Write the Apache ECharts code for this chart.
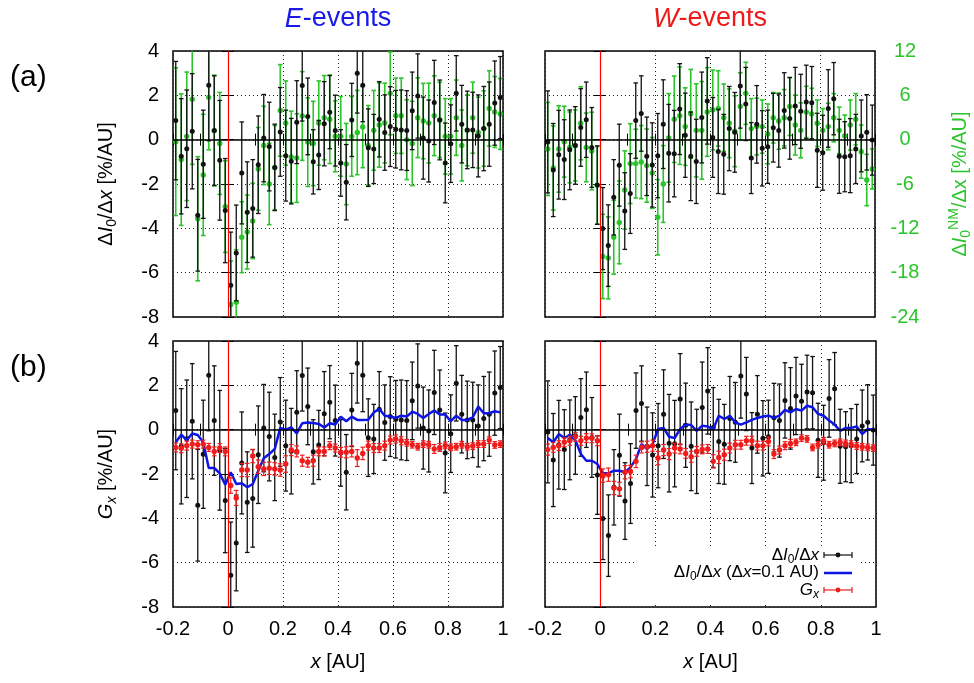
<!DOCTYPE html>
<html>
<head>
<meta charset="utf-8">
<script src="https://cdn.jsdelivr.net/npm/echarts@6/dist/echarts.min.js"></script>
<style>
  html, body { margin: 0; padding: 0; background: #fff; }
  #chart { width: 974px; height: 683px; }
</style>
</head>
<body>
<div id="chart"></div>
<script>
// Bin centres (AU)
const xs = [-0.19,-0.17,-0.15,-0.13,-0.11,-0.09,-0.07,-0.05,-0.03,-0.01,
             0.01, 0.03, 0.05, 0.07, 0.09, 0.11, 0.13, 0.15, 0.17, 0.19,
             0.21, 0.23, 0.25, 0.27, 0.29, 0.31, 0.33, 0.35, 0.37, 0.39,
             0.41, 0.43, 0.45, 0.47, 0.49, 0.51, 0.53, 0.55, 0.57, 0.59,
             0.61, 0.63, 0.65, 0.67, 0.69, 0.71, 0.73, 0.75, 0.77, 0.79,
             0.81, 0.83, 0.85, 0.87, 0.89, 0.91, 0.93, 0.95, 0.97, 0.99];

// E-events: dI0/dx [%/AU] and its error
const eDI = [0.86,-0.75,-0.41,0.38,-3.41,-1.11,2.45,0.41,-0.93,-3.2,
             -6.57,-5.11,-1.5,-3.27,-3.1,-1.13,0.07,-0.31,-1.25,0.35,
             -0.72,-0.97,0.79,2.44,1.05,-1.0,-0.69,0.72,1.24,0.41,
             -1.05,-1.92,0.89,3.0,2.45,-0.36,-0.42,0.92,0.32,0.59,
             0.47,0.44,0.41,1.3,1.97,0.07,-0.06,1.68,0.89,-1.05,
             -0.18,2.09,0.7,0.44,0.44,0.17,0.5,0.7,1.65,1.9];
const eDIErr = [2.67,2.6,2.65,2.6,2.52,2.44,2.5,2.47,2.7,2.35,
                2.4,2.16,2.3,2.27,2.2,2.2,1.97,2.0,1.95,2.0,
                2.05,1.93,1.87,1.6,1.73,1.45,1.56,1.9,1.65,1.6,
                1.5,1.7,1.65,1.8,1.64,1.75,1.56,1.7,1.7,1.8,
                1.75,1.8,1.8,1.75,1.9,1.85,1.85,1.9,1.8,1.8,
                1.75,1.7,1.75,1.75,1.7,1.85,1.9,1.9,1.9,1.85];

// E-events: neutron monitor dI0NM/dx [%/AU] and its error
const eNM = [-0.27,-2.7,0.45,5.46,-10.7,-4.77,5.73,1.23,-0.51,-9.06,
             -22.3,-22.0,-13.2,-12.5,-11.0,-3.96,-0.78,-6.0,-3.78,3.96,
             2.25,-2.34,-2.49,3.21,-0.33,-0.51,2.25,2.97,2.76,0.45,
             0.45,-3.3,0.45,0.96,1.71,-0.78,1.26,1.98,2.25,6.27,
             3.24,3.24,0.0,-0.51,2.97,2.52,2.25,3.24,2.67,0.45,
             0.45,2.97,-0.78,1.26,2.97,0.96,1.5,4.23,3.75,3.48];
const eNMErr = [10.0,8.9,8.7,8.8,8.4,8.2,7.1,7.5,6.9,6.2,
                5.9,7.1,4.8,5.0,5.1,5.6,5.3,5.5,5.7,6.2,
                5.7,6.2,6.0,6.0,6.0,5.7,5.7,5.7,6.0,4.8,
                5.4,5.5,5.4,5.7,5.5,5.4,5.4,5.7,5.4,5.6,
                5.1,5.1,5.4,5.7,5.4,5.1,5.4,5.4,5.1,5.1,
                5.1,5.1,4.8,4.8,4.8,4.8,5.1,5.1,4.8,4.8];

// W-events: dI0/dx [%/AU] and its error
const wDI = [-0.1,-1.37,-0.68,-0.9,-0.46,-0.26,0.55,0.9,-0.35,-2.05,
             -4.01,-4.78,-2.6,-1.15,-3.22,-2.43,0.86,1.18,-0.75,-1.14,
             -0.72,0.7,-0.61,-0.63,1.38,0.2,-0.75,-0.98,1.0,1.75,
             0.1,-0.53,-0.66,0.5,0.33,2.42,1.61,-0.83,0.69,-0.39,
             -0.32,0.54,0.41,1.32,0.96,1.52,1.28,1.7,1.67,-0.48,
             -0.59,1.41,1.85,-0.75,-0.77,-0.72,-0.42,0.17,0.33,-0.02];
const wDIErr = [2.3,2.1,2.0,1.8,1.8,1.75,1.75,1.7,1.8,1.77,
                1.85,1.84,1.7,1.85,1.73,1.8,1.7,1.7,1.77,1.9,
                1.9,2.0,2.2,1.95,2.05,1.9,2.0,1.9,2.05,1.95,
                1.8,1.9,1.8,1.9,1.8,1.9,1.65,1.6,1.75,1.7,
                1.65,1.55,1.65,1.7,1.84,1.74,1.67,1.66,1.63,1.67,
                1.69,1.75,1.63,1.67,1.58,1.67,1.56,1.62,1.7,1.58];

// W-events: neutron monitor dI0NM/dx [%/AU] and its error
const wNM = [-1.26,-3.84,-1.26,-0.27,-1.05,-0.78,2.22,-1.05,-1.53,-6.18,
             -15.8,-16.0,-13.2,-11.2,-6.81,-3.24,-3.24,-3.03,-3.51,-4.5,
             -10.5,-6.0,0.24,2.76,3.24,1.77,3.51,1.26,1.26,3.75,
             4.02,4.23,2.97,2.22,1.14,4.5,6.27,1.5,1.77,1.77,
             0.78,2.97,2.52,2.97,4.5,1.98,1.26,3.75,3.48,2.22,
             1.26,1.77,2.97,1.26,0.51,1.98,2.76,-1.62,-5.46,-3.96];
const wNMErr = [6.3,5.7,5.85,4.8,4.8,4.8,4.95,4.65,5.25,5.25,
                5.7,5.55,5.0,5.6,5.3,5.4,4.65,4.95,4.95,4.8,
                5.1,5.2,6.0,5.85,6.6,5.25,6.0,6.3,6.6,6.0,
                5.4,5.1,4.56,4.65,4.8,4.56,4.2,4.05,3.84,3.6,
                4.05,3.42,3.81,3.81,3.93,4.05,3.72,3.48,3.48,3.15,
                2.94,3.15,3.27,3.15,2.82,3.39,3.48,3.6,3.48,2.7];

// dI0/dx smoothed with dx = 0.1 AU
const eSmooth = [-0.57,-0.23,-0.47,-0.17,-0.24,-0.57,-1.73,-1.73,-1.97,-2.48,
                 -1.92,-2.45,-2.42,-2.6,-2.45,-1.85,-1.29,-1.1,-0.87,0.08,
                 0.0,0.1,-0.17,0.29,0.32,0.3,0.26,0.1,0.29,0.23,
                 0.59,0.38,0.59,0.44,0.44,0.45,0.78,0.93,0.63,0.59,
                 0.53,0.63,0.59,0.81,0.71,0.53,0.71,0.86,0.68,0.68,
                 0.38,0.63,0.44,0.44,0.56,1.04,0.74,0.74,0.83,0.78];
const wSmooth = [-0.38,-0.57,-0.2,-0.38,-0.23,-0.47,-1.1,-1.4,-1.4,-1.55,
                 -1.97,-1.97,-1.85,-1.85,-1.92,-1.7,-1.32,-0.65,-0.87,-0.65,
                 0.03,0.08,-0.32,-0.38,0.03,0.23,0.21,-0.05,0.18,0.14,
                 0.03,0.63,0.48,0.63,0.33,0.23,0.33,0.44,0.53,0.59,
                 0.63,0.53,0.63,0.89,0.78,0.93,0.86,1.08,1.01,0.71,
                 0.63,0.41,0.23,-0.05,0.08,0.08,0.14,-0.2,0.03,0.0];

// Gx [%/AU] and its error
const eGx = [-0.8,-0.84,-0.72,-0.65,-0.68,-0.65,-0.8,-0.98,-0.83,-0.98,
             -2.52,-3.08,-1.82,-1.82,-1.19,-1.67,-1.77,-1.74,-1.77,-1.82,
             -1.55,-0.92,-0.98,-1.4,-1.47,-1.4,-0.98,-0.98,-0.72,-0.83,
             -1.02,-1.02,-0.98,-1.28,-1.07,-0.72,-0.83,-0.83,-0.72,-0.47,
             -0.42,-0.5,-0.59,-0.68,-0.77,-0.65,-0.68,-0.87,-0.8,-0.71,
             -0.8,-0.77,-0.68,-0.77,-0.74,-0.65,-0.65,-0.47,-0.69,-0.65];
const eGxErr = [0.2,0.2,0.2,0.18,0.18,0.18,0.18,0.2,0.2,0.2,
                0.35,0.34,0.3,0.3,0.3,0.3,0.3,0.28,0.28,0.28,
                0.37,0.25,0.25,0.25,0.22,0.25,0.2,0.2,0.18,0.18,
                0.22,0.25,0.25,0.38,0.28,0.2,0.2,0.2,0.2,0.18,
                0.18,0.18,0.15,0.15,0.15,0.15,0.15,0.2,0.18,0.15,
                0.15,0.15,0.15,0.15,0.15,0.15,0.15,0.15,0.15,0.15];
const wGx = [-0.9,-0.8,-0.72,-0.57,-0.5,-0.32,-0.5,-0.38,-0.39,-0.5,
             -2.07,-2.03,-2.63,-2.67,-1.92,-1.89,-1.43,-0.8,-0.77,-0.72,
             -1.28,-0.92,-1.1,-0.83,-0.87,-1.07,-1.22,-0.98,-0.89,-0.87,
             -1.43,-1.25,-1.13,-0.83,-0.68,-0.68,-0.5,-0.5,-0.72,-0.72,
             -0.53,-1.1,-0.92,-0.72,-0.62,-0.57,-0.38,-0.42,-0.8,-0.68,
             -0.5,-0.68,-0.62,-0.57,-0.62,-0.65,-0.74,-0.77,-0.8,-0.83];
const wGxErr = [0.25,0.22,0.22,0.2,0.2,0.2,0.2,0.2,0.2,0.22,
                0.3,0.3,0.3,0.3,0.3,0.28,0.28,0.25,0.25,0.25,
                0.3,0.25,0.25,0.22,0.22,0.22,0.25,0.22,0.2,0.2,
                0.3,0.28,0.25,0.22,0.2,0.2,0.2,0.2,0.2,0.2,
                0.2,0.2,0.18,0.18,0.18,0.15,0.15,0.15,0.15,0.15,
                0.15,0.15,0.15,0.15,0.15,0.15,0.15,0.15,0.15,0.15];

// Axis tick values
const xTicks = [-0.2, 0, 0.2, 0.4, 0.6, 0.8, 1];
const yTicks = [-8, -6, -4, -2, 0, 2, 4];
const nmTicks = [-24, -18, -12, -6, 0, 6, 12];

// ---------------------------------------------------------------
const FONT = '"Liberation Sans", Arial, Helvetica, sans-serif';
const BLACK = '#111';
const GREEN = '#2bc42b';
const BLUE = '#0c14e6';
const RED = '#f01c1c';

const panels = [
  { left: 173, top: 51,  width: 330, height: 266 },
  { left: 545, top: 51,  width: 331, height: 266 },
  { left: 173, top: 341, width: 330, height: 266 },
  { left: 545, top: 341, width: 331, height: 266 }
];

function triples(vals, errs) {
  return xs.map((x, i) => [x, vals[i], errs[i]]);
}

function errorBarRenderer(color, r, cap, lw) {
  return function (params, api) {
    const x = api.value(0), y = api.value(1), e = api.value(2);
    const p = api.coord([x, y]);
    const hi = api.coord([x, y + e]);
    const lo = api.coord([x, y - e]);
    const st = { stroke: color, lineWidth: lw };
    return {
      type: 'group',
      children: [
        { type: 'line', shape: { x1: p[0], y1: hi[1], x2: p[0], y2: lo[1] }, style: st },
        { type: 'line', shape: { x1: p[0] - cap, y1: hi[1], x2: p[0] + cap, y2: hi[1] }, style: st },
        { type: 'line', shape: { x1: p[0] - cap, y1: lo[1], x2: p[0] + cap, y2: lo[1] }, style: st },
        { type: 'circle', shape: { cx: p[0], cy: p[1], r: r }, style: { fill: color } }
      ]
    };
  };
}

const dotted = { color: '#222', width: 1, type: [1, 3] };
const tickStyle = { color: '#000', width: 1 };

function xFmt(v) {
  if (Math.abs(v) < 1e-9) return '0';
  return String(+v.toFixed(1));
}

const xAxes = [];
const yAxes = [];
for (let g = 0; g < 4; g++) {
  const bottomRow = g >= 2;
  xAxes.push({
    type: 'value', gridIndex: g, position: 'bottom',
    min: xTicks[0], max: xTicks[xTicks.length - 1], interval: 0.2,
    axisLine: { show: false },
    axisTick: { show: true, inside: true, length: 6, lineStyle: tickStyle },
    minorTick: { show: true, splitNumber: 2, length: 6, lineStyle: tickStyle },
    axisLabel: { show: bottomRow, formatter: xFmt, fontSize: 20, color: '#000', fontFamily: FONT, margin: 12 },
    splitLine: { show: true, lineStyle: dotted },
    name: bottomRow ? '{i|x}{d| [AU]}' : '',
    nameLocation: 'middle', nameGap: 45,
    nameTextStyle: {
      fontFamily: FONT, color: '#000', fontSize: 20,
      rich: { i: { fontSize: 20, fontStyle: 'italic', fontFamily: FONT, color: '#000' },
              d: { fontSize: 20, fontFamily: FONT, color: '#000' } }
    }
  });
}
for (let g = 0; g < 4; g++) {
  xAxes.push({
    type: 'value', gridIndex: g, position: 'top',
    min: xTicks[0], max: xTicks[xTicks.length - 1], interval: 0.2,
    axisLine: { show: false },
    axisTick: { show: true, inside: true, length: 6, lineStyle: tickStyle },
    minorTick: { show: true, splitNumber: 2, length: 6, lineStyle: tickStyle },
    axisLabel: { show: false }, splitLine: { show: false }
  });
}

const blackRich = {
  d: { fontSize: 20, fontFamily: FONT, color: '#000' },
  i: { fontSize: 20, fontFamily: FONT, fontStyle: 'italic', color: '#000' },
  s: { fontSize: 14, fontFamily: FONT, color: '#000', padding: [12, 0, 0, 0] },
  si: { fontSize: 14, fontFamily: FONT, fontStyle: 'italic', color: '#000', padding: [12, 0, 0, 0] }
};
const yNames = [
  '{d|Δ}{i|I}{s|0}{d|/Δ}{i|x}{d| [%/AU]}',
  '',
  '{i|G}{si|x}{d| [%/AU]}',
  ''
];
for (let g = 0; g < 4; g++) {
  const leftCol = g % 2 === 0;
  yAxes.push({
    type: 'value', gridIndex: g, position: 'left',
    min: yTicks[0], max: yTicks[yTicks.length - 1], interval: 2,
    axisLine: { show: false },
    axisTick: { show: true, inside: true, length: 6, lineStyle: tickStyle },
    axisLabel: { show: leftCol, fontSize: 20, color: '#000', fontFamily: FONT, margin: 14 },
    splitLine: { show: true, lineStyle: dotted },
    name: yNames[g], nameLocation: 'middle', nameRotate: 90, nameGap: 54,
    nameTextStyle: { fontFamily: FONT, fontSize: 20, color: '#000', rich: blackRich }
  });
}
const greenRich = {
  d: { fontSize: 20, fontFamily: FONT, color: GREEN },
  i: { fontSize: 20, fontFamily: FONT, fontStyle: 'italic', color: GREEN },
  s: { fontSize: 14, fontFamily: FONT, color: GREEN, padding: [12, 0, 0, 0] },
  u: { fontSize: 14, fontFamily: FONT, color: GREEN, padding: [0, 0, 12, 0] }
};
for (let g = 0; g < 4; g++) {
  const top = g < 2;
  const greenAxis = g === 1;
  yAxes.push({
    type: 'value', gridIndex: g, position: 'right',
    min: top ? nmTicks[0] : yTicks[0],
    max: top ? nmTicks[nmTicks.length - 1] : yTicks[yTicks.length - 1],
    interval: top ? 6 : 2,
    axisLine: { show: false },
    axisTick: { show: true, inside: true, length: 6, lineStyle: tickStyle },
    axisLabel: { show: greenAxis, fontSize: 20, color: GREEN, fontFamily: FONT, margin: 30, align: 'center' },
    splitLine: { show: false },
    name: greenAxis ? '{d|Δ}{i|I}{s|0}{u|NM}{d|/Δx [%/AU]}' : '',
    nameLocation: 'middle', nameRotate: 90, nameGap: 72,
    nameTextStyle: { fontFamily: FONT, fontSize: 20, color: GREEN, rich: greenRich }
  });
}

const refLines = {
  silent: true, symbol: 'none', animation: false, label: { show: false },
  data: [
    { yAxis: 0, lineStyle: { color: '#000', width: 1.5, type: 'solid' } },
    { xAxis: 0, lineStyle: { color: '#f00', width: 1.2, type: 'solid' } }
  ]
};

function errSeries(g, yIdx, vals, errs, color, r, lw, z, withRef) {
  const s = {
    type: 'custom', xAxisIndex: g, yAxisIndex: yIdx, clip: true, z: z,
    renderItem: errorBarRenderer(color, r, 2.3, lw),
    encode: { x: 0, y: 1 },
    data: triples(vals, errs)
  };
  if (withRef) s.markLine = refLines;
  return s;
}

const series = [
  errSeries(0, 4, eNM, eNMErr, GREEN, 2.7, 1.6, 2, false),
  errSeries(0, 0, eDI, eDIErr, BLACK, 2.5, 1.3, 3, true),
  errSeries(1, 5, wNM, wNMErr, GREEN, 2.7, 1.6, 2, false),
  errSeries(1, 1, wDI, wDIErr, BLACK, 2.5, 1.3, 3, true),
  errSeries(2, 2, eDI, eDIErr, BLACK, 2.5, 1.3, 2, true),
  { type: 'line', xAxisIndex: 2, yAxisIndex: 2, z: 3, showSymbol: false, clip: true,
    lineStyle: { color: BLUE, width: 2.5 }, data: xs.map((x, i) => [x, eSmooth[i]]) },
  errSeries(2, 2, eGx, eGxErr, RED, 2.7, 1.2, 4, false),
  errSeries(3, 3, wDI, wDIErr, BLACK, 2.5, 1.3, 2, true),
  { type: 'line', xAxisIndex: 3, yAxisIndex: 3, z: 3, showSymbol: false, clip: true,
    lineStyle: { color: BLUE, width: 2.5 }, data: xs.map((x, i) => [x, wSmooth[i]]) },
  errSeries(3, 3, wGx, wGxErr, RED, 2.7, 1.2, 4, false)
];

// Key for the lower-right panel
const keyRich = {
  d: { fontSize: 17, fontFamily: FONT, fill: '#000' },
  i: { fontSize: 17, fontFamily: FONT, fontStyle: 'italic', fill: '#000' },
  s: { fontSize: 12, fontFamily: FONT, fill: '#000', padding: [9, 0, 0, 0] },
  si: { fontSize: 12, fontFamily: FONT, fontStyle: 'italic', fill: '#000', padding: [9, 0, 0, 0] }
};
function keyText(text, y) {
  return { type: 'text', z: 10, style: { text: text, x: 819, y: y, align: 'right', verticalAlign: 'middle',
           fontSize: 17, fontFamily: FONT, fill: '#000', rich: keyRich } };
}
function keyErrSample(y, color) {
  const st = { stroke: color, lineWidth: 1.2 };
  return [
    { type: 'line', z: 10, shape: { x1: 824, y1: y, x2: 852, y2: y }, style: st },
    { type: 'line', z: 10, shape: { x1: 824, y1: y - 3, x2: 824, y2: y + 3 }, style: st },
    { type: 'line', z: 10, shape: { x1: 852, y1: y - 3, x2: 852, y2: y + 3 }, style: st },
    { type: 'circle', z: 10, shape: { cx: 838, cy: y, r: 2.4 }, style: { fill: color } }
  ];
}

const graphics = [
  { type: 'text', z: 10, style: { text: '{i|E}{d|-events}', x: 338, y: 19, align: 'center', verticalAlign: 'middle',
    fontSize: 27, fontFamily: FONT, fill: '#1a1ae8',
    rich: { i: { fontSize: 27, fontFamily: FONT, fontStyle: 'italic', fill: '#1a1ae8' },
            d: { fontSize: 27, fontFamily: FONT, fill: '#1a1ae8' } } } },
  { type: 'text', z: 10, style: { text: '{i|W}{d|-events}', x: 710, y: 19, align: 'center', verticalAlign: 'middle',
    fontSize: 27, fontFamily: FONT, fill: '#ee1a1a',
    rich: { i: { fontSize: 27, fontFamily: FONT, fontStyle: 'italic', fill: '#ee1a1a' },
            d: { fontSize: 27, fontFamily: FONT, fill: '#ee1a1a' } } } },
  { type: 'text', z: 10, style: { text: '(a)', x: 10, y: 78, verticalAlign: 'middle', fontSize: 30, fontFamily: FONT, fill: '#000' } },
  { type: 'text', z: 10, style: { text: '(b)', x: 10, y: 368, verticalAlign: 'middle', fontSize: 30, fontFamily: FONT, fill: '#000' } },
  { type: 'rect', z: 1, shape: { x: 637, y: 546, width: 224, height: 57 }, style: { fill: '#fff' } },
  keyText('{d|Δ}{i|I}{s|0}{d|/Δ}{i|x}', 555),
  keyText('{d|Δ}{i|I}{s|0}{d|/Δ}{i|x}{d| (Δ}{i|x}{d|=0.1 AU)}', 572),
  keyText('{i|G}{si|x}', 590),
  ...keyErrSample(555, BLACK),
  { type: 'line', z: 10, shape: { x1: 824, y1: 573, x2: 852, y2: 573 }, style: { stroke: BLUE, lineWidth: 2.5 } },
  ...keyErrSample(590, RED)
];

const chart = echarts.init(document.getElementById('chart'), null, { renderer: 'canvas' });
chart.setOption({
  animation: false,
  backgroundColor: '#fff',
  grid: panels.map(p => Object.assign({ show: true, borderColor: '#000', borderWidth: 1.5, containLabel: false }, p)),
  xAxis: xAxes,
  yAxis: yAxes,
  series: series,
  graphic: graphics
});
</script>
</body>
</html>
